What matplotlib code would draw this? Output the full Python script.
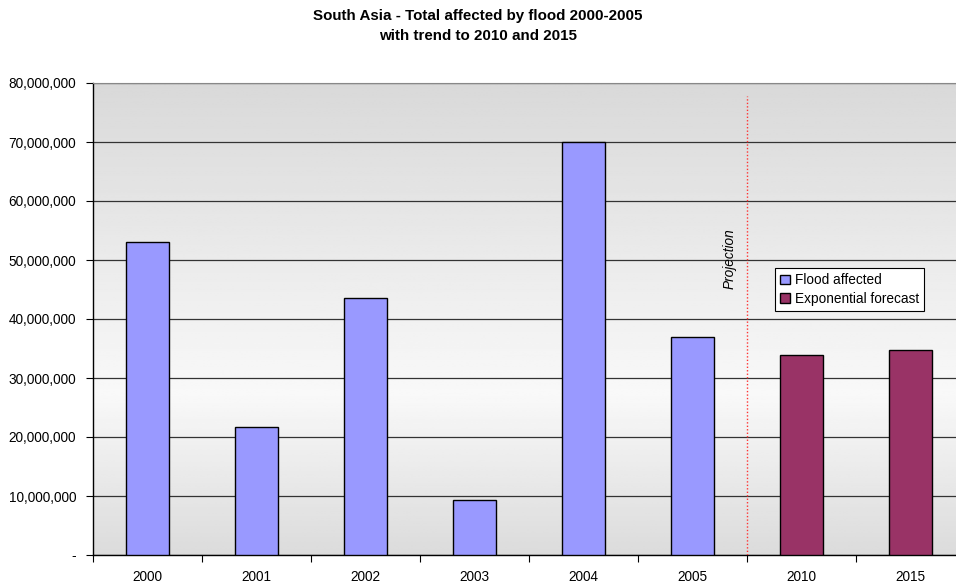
import numpy as np
import matplotlib.pyplot as plt
from matplotlib.ticker import FuncFormatter
from matplotlib.patches import Patch

plt.rcParams['font.family'] = ['Liberation Sans', 'DejaVu Sans']

# data
years = ["2000", "2001", "2002", "2003", "2004", "2005", "2010", "2015"]
flood_affected = [53000000, 21700000, 43600000, 9400000, 70000000, 37000000]
forecast = [33900000, 34800000]

fig = plt.figure(figsize=(9.56, 5.87), dpi=100)
W, H = 956, 587
left, right, top, bottom = 93, 965, 83, 555
ax = fig.add_axes([left / W, 1 - bottom / H, (right - left) / W, (bottom - top) / H])

# gradient background: gray top -> near white -> gray bottom
t = np.linspace(0, 1, 200)  # 0 = bottom, 1 = top
lvl = np.interp(t, [0, 0.34, 1], [0.86, 0.975, 0.85])
grad = np.repeat(lvl[:, None], 2, axis=1)
ax.imshow(grad, cmap='gray', vmin=0, vmax=1, origin='lower', aspect='auto',
          extent=[-0.5, 7.5, 0, 80000000], zorder=0)

x = np.arange(len(years))
ax.bar(x[:6], flood_affected, width=0.4, color='#9999ff', edgecolor='black',
       linewidth=1, zorder=3)
ax.bar(x[6:], forecast, width=0.4, color='#993366', edgecolor='black',
       linewidth=1, zorder=3)

ax.set_xlim(-0.5, 7.5)
ax.set_ylim(0, 80000000)
ax.set_yticks(np.arange(0, 80000001, 10000000))
ax.yaxis.set_major_formatter(FuncFormatter(lambda v, p: '-' if v == 0 else f'{int(v):,}'))
ax.grid(axis='y', color='#333333', linewidth=0.9, zorder=1)
ax.set_axisbelow(True)

ax.set_xticks(np.arange(-0.5, 8, 1))
ax.set_xticklabels([])
ax.set_xticks(x, minor=True)
ax.set_xticklabels(years, minor=True)
ax.tick_params(axis='x', which='minor', length=0, pad=11, labelsize=9.8)
ax.tick_params(axis='x', which='major', length=5, direction='out', width=0.8)
ax.tick_params(axis='y', length=5, direction='out', width=0.8, labelsize=9.8, pad=7)

for s in ['left', 'bottom']:
    ax.spines[s].set_color('black')
    ax.spines[s].set_linewidth(1)
ax.spines['top'].set_color('#888888')
ax.spines['right'].set_visible(False)

# projection separator
ax.axvline(5.5, ymax=0.973, color='#ff3333', linestyle=(0, (1, 1.5)), linewidth=1, zorder=4)
ax.text(5.34, 50300000, 'Projection', rotation=90, style='italic', fontsize=9.8,
        ha='center', va='center', zorder=5)

handles = [Patch(facecolor='#9999ff', edgecolor='black', label='Flood affected'),
           Patch(facecolor='#993366', edgecolor='black', label='Exponential forecast')]
leg = ax.legend(handles=handles, loc='upper left', bbox_to_anchor=(0.782, 0.608),
                borderaxespad=0, fancybox=False, edgecolor='black', framealpha=1,
                fontsize=9.8, handlelength=0.7, handleheight=0.7, handletextpad=0.35,
                labelspacing=0.3, borderpad=0.4)
leg.get_frame().set_linewidth(0.8)

fig.text(478 / W, 1 - 26 / H, 'South Asia - Total affected by flood 2000-2005\nwith trend to 2010 and 2015',
         ha='center', va='center', fontsize=10.9, fontweight='bold', linespacing=1.55)

fig.savefig('out.png', dpi=100)
